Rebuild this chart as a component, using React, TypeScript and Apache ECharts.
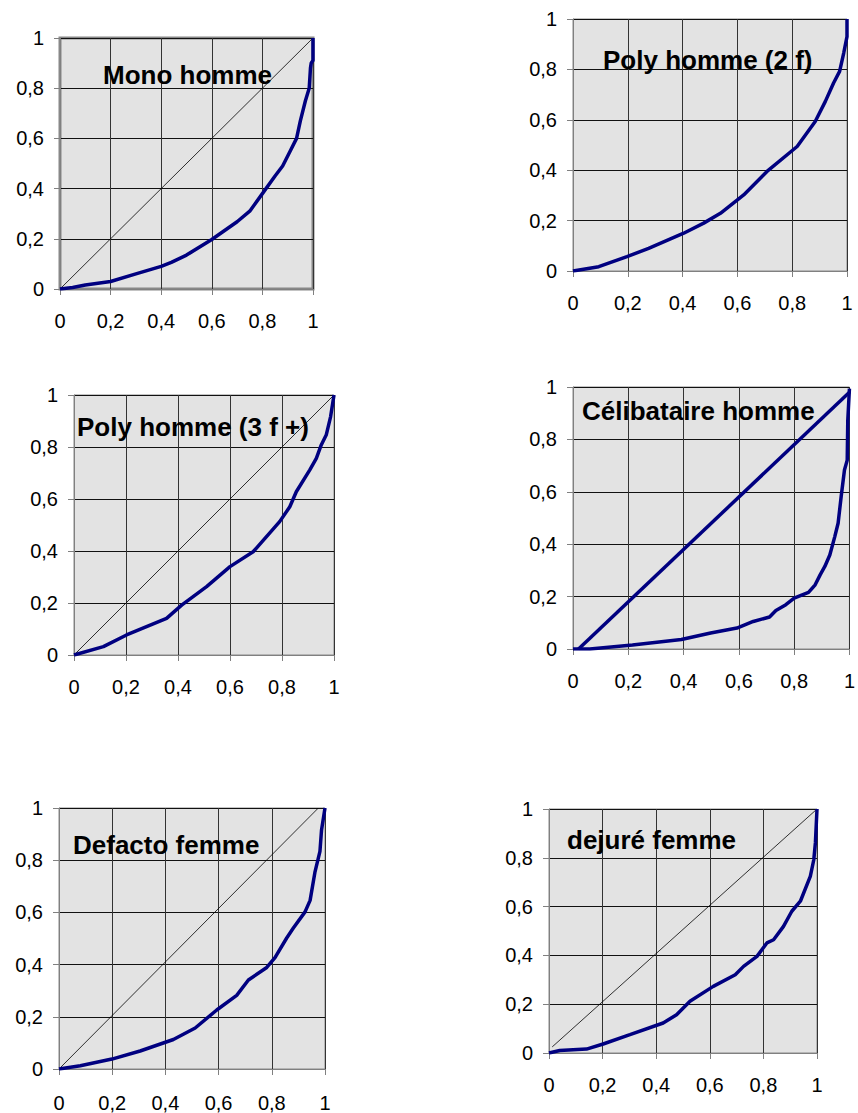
import React, { useEffect, useRef } from "react";
import * as echarts from "echarts";

// Panel titles
const titles = [
  "Mono homme",
  "Poly homme (2 f)",
  "Poly homme (3 f +)",
  "Célibataire homme",
  "Defacto femme",
  "dejuré femme",
];

// Tick values shared by both axes
const tickValues = [0, 0.2, 0.4, 0.6, 0.8, 1];

// Lorenz curves: [cumulative population share, cumulative income share]
const monoHomme: number[][] = [
  [0, 0], [0.05, 0.006], [0.1, 0.016], [0.2, 0.03], [0.3, 0.06], [0.4, 0.09],
  [0.44, 0.106], [0.5, 0.135], [0.6, 0.197], [0.7, 0.268], [0.75, 0.31],
  [0.8, 0.38], [0.85, 0.45], [0.88, 0.49], [0.91, 0.55], [0.935, 0.6],
  [0.95, 0.67], [0.97, 0.75], [0.985, 0.8], [0.99, 0.88], [0.993, 0.9],
  [1, 0.91], [1, 1],
];
const polyHomme2f: number[][] = [
  [0, 0], [0.094, 0.017], [0.197, 0.057], [0.276, 0.09], [0.404, 0.15],
  [0.477, 0.19], [0.538, 0.229], [0.623, 0.302], [0.708, 0.395],
  [0.818, 0.494], [0.884, 0.593], [0.921, 0.673], [0.951, 0.746],
  [0.973, 0.792], [0.988, 0.865], [1, 0.93], [1, 1],
];
const polyHomme3f: number[][] = [
  [0, 0], [0.113, 0.032], [0.202, 0.077], [0.356, 0.141], [0.414, 0.192],
  [0.51, 0.263], [0.6, 0.34], [0.689, 0.397], [0.791, 0.513], [0.83, 0.57],
  [0.855, 0.628], [0.907, 0.712], [0.932, 0.756], [0.951, 0.808],
  [0.97, 0.846], [0.987, 0.917], [1, 1],
];
const celibataireHomme: number[][] = [
  [0, 0], [0.061, 0], [0.215, 0.015], [0.392, 0.036], [0.498, 0.061],
  [0.593, 0.08], [0.652, 0.105], [0.711, 0.122], [0.734, 0.147],
  [0.77, 0.169], [0.8, 0.194], [0.852, 0.216], [0.876, 0.245],
  [0.894, 0.283], [0.911, 0.315], [0.929, 0.359], [0.947, 0.429],
  [0.959, 0.48], [0.97, 0.581], [0.982, 0.683], [0.992, 0.721],
  [0.994, 0.873], [1, 0.994],
];
const defactoFemme: number[][] = [
  [0, 0], [0.08, 0.0125], [0.199, 0.038], [0.305, 0.069], [0.43, 0.113],
  [0.512, 0.157], [0.593, 0.226], [0.668, 0.282], [0.712, 0.341],
  [0.781, 0.389], [0.812, 0.427], [0.856, 0.502], [0.881, 0.54],
  [0.925, 0.602], [0.944, 0.646], [0.962, 0.753], [0.981, 0.834],
  [0.987, 0.916], [1, 1],
];
const dejureFemme: number[][] = [
  [0, 0], [0.04, 0.01], [0.14, 0.016], [0.202, 0.037], [0.302, 0.075],
  [0.426, 0.123], [0.476, 0.157], [0.526, 0.212], [0.613, 0.273],
  [0.695, 0.321], [0.726, 0.355], [0.776, 0.396], [0.813, 0.451],
  [0.838, 0.464], [0.875, 0.519], [0.906, 0.581], [0.938, 0.622],
  [0.975, 0.724], [0.988, 0.792], [0.994, 0.861], [1, 1],
];
const curves = [monoHomme, polyHomme2f, polyHomme3f, celibataireHomme, defactoFemme, dejureFemme];

// Equality lines (null = none drawn)
const diagonals: (number[][] | null)[] = [
  [[0, 0], [1, 1]],
  null,
  [[0, 0], [1, 1]],
  [[0.02, 0], [1, 0.98]],
  [[0, 0], [0.975, 1]],
  [[0.012, 0.025], [1, 1]],
];

// Layout (pixels)
const grids = [
  { left: 60, top: 38, width: 253, height: 251, border: 3, tx: 103, ty: 75, xm: 22 },
  { left: 573, top: 19, width: 274, height: 252, border: 1, tx: 603, ty: 60, xm: 22 },
  { left: 74, top: 395, width: 260, height: 260, border: 1, tx: 77, ty: 427, xm: 22 },
  { left: 573, top: 387, width: 282, height: 262, border: 1, tx: 582, ty: 411, xm: 22 },
  { left: 59, top: 808, width: 266, height: 265, border: 1, tx: 73, ty: 845, xm: 24 },
  { left: 549, top: 809, width: 268, height: 244, border: 1, tx: 567, ty: 840, xm: 22 },
];

const NAVY = "#000080";
const FONT = "'Liberation Sans', Arial, sans-serif";
const fmt = (v: number) => String(Math.round(v * 10) / 10).replace(".", ",");

export default function App() {
  const ref = useRef<HTMLDivElement>(null);
  useEffect(() => {
    if (!ref.current) return;
    const chart = echarts.init(ref.current, null, { renderer: "svg" });
    const axisCommon = (vertical: boolean, margin: number) => ({
      type: "value" as const,
      min: tickValues[0],
      max: tickValues[tickValues.length - 1],
      interval: 0.2,
      axisLine: { show: true, onZero: false, lineStyle: { color: "#808080", width: 1 } },
      axisTick: { show: true, length: 6, lineStyle: { color: "#808080" } },
      axisLabel: {
        formatter: fmt,
        color: "#000",
        fontFamily: FONT,
        fontSize: 20,
        margin,
      },
      splitLine: { show: true, lineStyle: { color: vertical ? "#333" : "#111", width: 1 } },
    });
    const series: any[] = [];
    curves.forEach((c, i) => {
      const d = diagonals[i];
      if (d) {
        series.push({
          type: "line",
          xAxisIndex: i,
          yAxisIndex: i,
          data: d,
          symbol: "none",
          lineStyle: i === 3 ? { color: NAVY, width: 3.5 } : { color: "#000", width: 0.8 },
          z: 3,
        });
      }
      series.push({
        type: "line",
        xAxisIndex: i,
        yAxisIndex: i,
        data: c,
        symbol: "none",
        lineStyle: { color: NAVY, width: 3.5 },
        z: 4,
      });
    });
    chart.setOption({
      animation: false,
      backgroundColor: "#fff",
      grid: grids.map((g) => ({
        left: g.left,
        top: g.top,
        width: g.width,
        height: g.height,
        show: true,
        backgroundColor: "#e3e3e3",
        borderColor: "#888",
        borderWidth: g.border,
        containLabel: false,
      })),
      xAxis: grids.map((g, i) => ({ ...axisCommon(true, g.xm), gridIndex: i, position: "bottom" })),
      yAxis: grids.map((_, i) => ({ ...axisCommon(false, 16), gridIndex: i, position: "left" })),
      series,
      graphic: grids.map((g, i) => ({
        type: "text",
        x: g.tx,
        y: g.ty,
        z: 10,
        style: {
          text: titles[i],
          fontFamily: FONT,
          fontWeight: "bold",
          fontSize: 26,
          fill: "#000",
          verticalAlign: "middle",
          align: "left",
        },
      })),
    });
    return () => chart.dispose();
  }, []);
  return (
    <div
      ref={ref}
      style={{ position: "absolute", left: 0, top: 0, width: 858, height: 1113 }}
    />
  );
}
